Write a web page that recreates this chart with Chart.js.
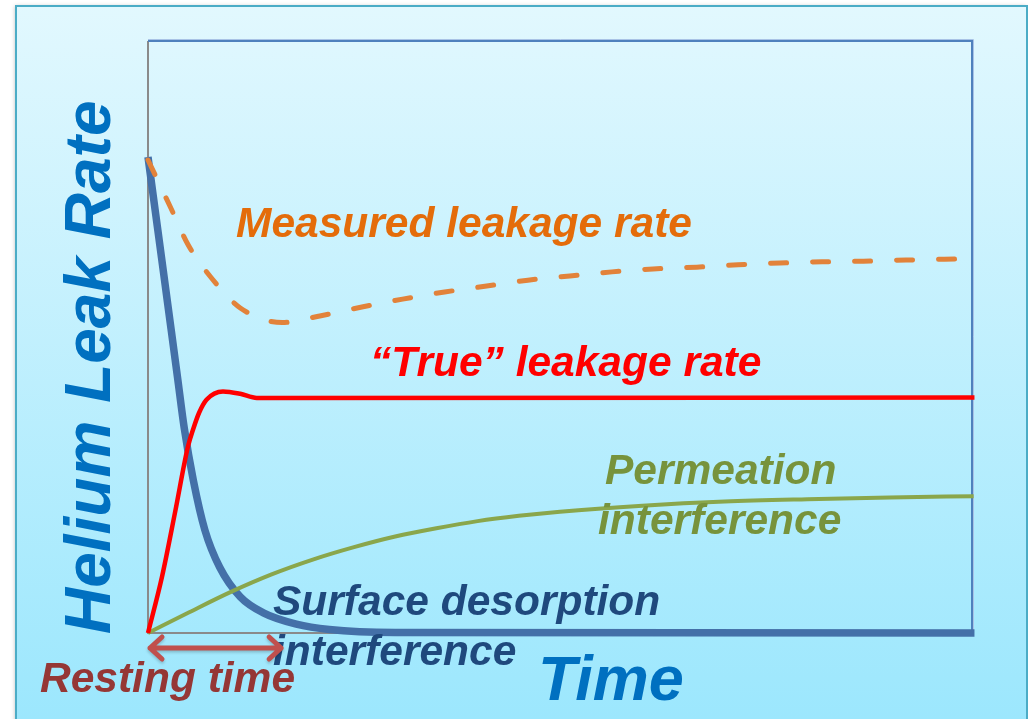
<!DOCTYPE html>
<html>
<head>
<meta charset="utf-8">
<script src="https://cdn.jsdelivr.net/npm/chart.js@4.4.1/dist/chart.umd.min.js"></script>
<style>
html,body{margin:0;padding:0;background:#fff;overflow:hidden;}
canvas{display:block;}
</style>
</head>
<body>
<canvas id="c" width="1028" height="719"></canvas>
<script>
// ---- Data (time 0..100, rate 0..100, arbitrary units) ----
const surfaceTime = [0, 1.2, 2.4, 3.6, 4.4, 5.5, 6.9, 8.7, 11.2, 14, 18, 22, 30, 100.3];
const surfaceRate = [80.4, 68, 55.5, 43, 34.6, 25.8, 17.4, 11.1, 6.1, 3.4, 1.5, 0.6, 0.1, 0];

const trueTime = [0, 1.7, 3.3, 4.85, 5.5, 6.2, 7.1, 9.1, 11.2, 13.2, 100.3];
const trueRate = [0, 9.5, 20.5, 31.5, 34.5, 37.2, 39.4, 40.8, 40.4, 39.7, 39.8];

const measuredTime = [0, 2.7, 4.9, 7.8, 11.2, 16.3, 21, 26.1, 30.9, 36, 41.1, 46.1, 51.2, 56.3, 61.3, 66.6, 71.6, 76.7, 81.8, 86.8, 92, 99];
const measuredRate = [79.9, 72.0, 65.5, 59.8, 54.9, 52.45, 53.6, 55.1, 56.4, 57.6, 58.6, 59.6, 60.3, 61.0, 61.5, 61.8, 62.2, 62.5, 62.7, 62.8, 63.0, 63.2];

const permeationTime = [0, 5, 10, 15, 20, 25, 30, 35, 40, 45, 50, 60, 70, 80, 90, 100.2];
const permeationRate = [0, 3.5, 6.9, 9.9, 12.4, 14.5, 16.3, 17.7, 18.9, 19.8, 20.5, 21.5, 22.2, 22.6, 22.9, 23.1];

const restingTimeEnd = 16.4;

const axisTitleX = "Time";
const axisTitleY = "Helium Leak Rate";
const labelMeasured = "Measured leakage rate";
const labelTrue = "\u201CTrue\u201D leakage rate";
const labelPermeation = ["Permeation", "interference"];
const labelSurface = ["Surface desorption", "interference"];
const labelResting = "Resting time";

function pts(xs, ys) { return xs.map((x, i) => ({x: x, y: ys[i]})); }

const FONT = '"Liberation Sans", Arial, sans-serif';

const backgroundPlugin = {
  id: 'bg',
  beforeDraw(chart) {
    const ctx = chart.ctx;
    ctx.save();
    ctx.fillStyle = '#ffffff';
    ctx.fillRect(0, 0, chart.width, chart.height);
    const g = ctx.createLinearGradient(0, 5, 0, chart.height);
    g.addColorStop(0, '#E2F8FE');
    g.addColorStop(1, '#9CE7FD');
    ctx.shadowColor = 'rgba(0,0,0,0.25)';
    ctx.shadowBlur = 4;
    ctx.shadowOffsetX = -1;
    ctx.fillStyle = g;
    ctx.fillRect(16, 6, chart.width - 17, chart.height);
    ctx.shadowColor = 'transparent';
    ctx.strokeStyle = '#4BACC6';
    ctx.lineWidth = 2;
    ctx.beginPath();
    ctx.moveTo(16, chart.height + 2);
    ctx.lineTo(16, 6);
    ctx.lineTo(chart.width - 1, 6);
    ctx.lineTo(chart.width - 1, chart.height + 2);
    ctx.stroke();
    ctx.restore();
  },
  beforeDatasetsDraw(chart) {
    const ctx = chart.ctx;
    const a = chart.chartArea;
    ctx.save();
    ctx.strokeStyle = '#8A8A8A';
    ctx.lineWidth = 2;
    ctx.beginPath();
    ctx.moveTo(a.left, a.top);
    ctx.lineTo(a.left, a.bottom);
    ctx.lineTo(a.right, a.bottom);
    ctx.stroke();
    ctx.strokeStyle = '#A9C3E6';
    ctx.lineWidth = 1;
    ctx.beginPath();
    ctx.moveTo(a.left, a.top - 1.5);
    ctx.lineTo(a.right + 1.5, a.top - 1.5);
    ctx.lineTo(a.right + 1.5, a.bottom);
    ctx.stroke();
    ctx.strokeStyle = '#4F81BD';
    ctx.lineWidth = 2;
    ctx.beginPath();
    ctx.moveTo(a.left, a.top);
    ctx.lineTo(a.right, a.top);
    ctx.lineTo(a.right, a.bottom);
    ctx.stroke();
    ctx.restore();
  },
  afterDraw(chart) {
    const ctx = chart.ctx;
    const xs = chart.scales.x;
    const a = chart.chartArea;
    ctx.save();
    ctx.textBaseline = 'alphabetic';
    ctx.textAlign = 'left';
    const lab = (t, x, y, color, size) => {
      ctx.font = 'italic bold ' + size + 'px ' + FONT;
      ctx.fillStyle = color;
      ctx.fillText(t, x, y);
    };
    lab(labelMeasured, 236, 237, '#E46C0A', 42.5);
    lab(labelTrue, 370, 376, '#FF0000', 42.5);
    lab(labelPermeation[0], 605, 484, '#77933C', 42.5);
    lab(labelPermeation[1], 598, 534, '#77933C', 42.5);
    lab(labelSurface[0], 273, 615, '#1F497D', 42.5);
    lab(labelSurface[1], 273, 665, '#1F497D', 42.5);
    lab(axisTitleX, 538, 700, '#0070C0', 63);
    lab(labelResting, 40, 692, '#953735', 42.5);
    ctx.save();
    ctx.translate(110, 634);
    ctx.rotate(-Math.PI / 2);
    ctx.font = 'italic bold 64px ' + FONT;
    ctx.fillStyle = '#0070C0';
    ctx.fillText(axisTitleY, 0, 0);
    ctx.restore();
    const x0 = xs.getPixelForValue(0), x1 = xs.getPixelForValue(restingTimeEnd);
    const yA = a.bottom + 15;
    ctx.strokeStyle = '#C0504D';
    ctx.lineWidth = 5;
    ctx.lineCap = 'round';
    ctx.lineJoin = 'round';
    ctx.shadowColor = 'rgba(0,0,0,0.2)';
    ctx.shadowBlur = 3;
    ctx.shadowOffsetY = 2;
    ctx.beginPath();
    ctx.moveTo(x0 + 2, yA);
    ctx.lineTo(x1 - 2, yA);
    ctx.moveTo(x0 + 14, yA - 11);
    ctx.lineTo(x0 + 2, yA);
    ctx.lineTo(x0 + 14, yA + 11);
    ctx.moveTo(x1 - 14, yA - 11);
    ctx.lineTo(x1 - 2, yA);
    ctx.lineTo(x1 - 14, yA + 11);
    ctx.stroke();
    ctx.restore();
  }
};

new Chart(document.getElementById('c'), {
  type: 'line',
  data: {
    datasets: [
      {label: 'True leakage rate', data: pts(trueTime, trueRate), borderColor: '#FF0000', borderWidth: 4.5, order: 0},
      {label: 'Measured leakage rate', data: pts(measuredTime, measuredRate), borderColor: '#E2823A', borderWidth: 5, borderDash: [16, 26], borderCapStyle: 'round', order: 1},
      {label: 'Permeation interference', data: pts(permeationTime, permeationRate), borderColor: '#8AA64B', borderWidth: 4, order: 2},
      {label: 'Surface desorption interference', data: pts(surfaceTime, surfaceRate), borderColor: '#4470A8', borderWidth: 7.5, order: 3}
    ]
  },
  options: {
    responsive: false,
    animation: false,
    devicePixelRatio: 1,
    layout: {padding: {left: 148, top: 41, right: 56, bottom: 86}},
    elements: {
      point: {radius: 0, hoverRadius: 0},
      line: {cubicInterpolationMode: 'monotone', fill: false}
    },
    datasets: {line: {clip: false}},
    plugins: {legend: {display: false}, tooltip: {enabled: false}, title: {display: false}},
    events: [],
    scales: {
      x: {type: 'linear', min: 0, max: 100, display: false},
      y: {type: 'linear', min: 0, max: 100, display: false}
    }
  },
  plugins: [backgroundPlugin]
});
</script>
</body>
</html>
